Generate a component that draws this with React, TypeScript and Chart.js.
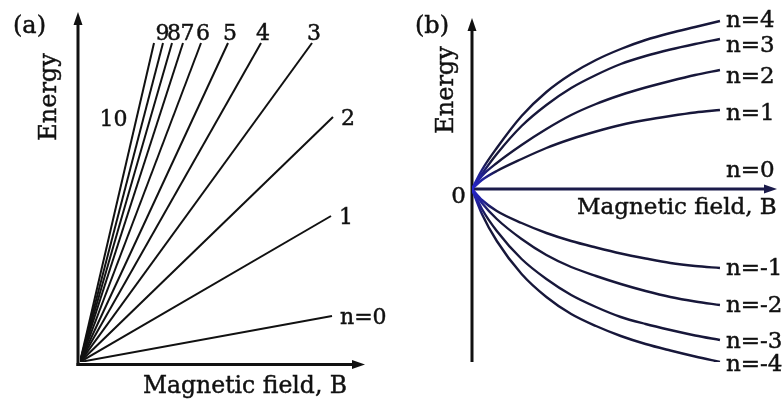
import React, { useEffect, useRef } from "react";
import { Chart, registerables } from "chart.js";

Chart.register(...registerables);

const SERIF = '"DejaVu Serif", "Liberation Serif", serif';
const INK = "#111111";
const NAVY = "#17173a";
const AXIS_NAVY = "#1b1b4a";

// (a) Landau levels of an ordinary two-dimensional electron gas: straight fans from the origin
const fanLevels = ["n=0", "1", "2", "3", "4", "5", "6", "7", "8", "9", "10"];
const fanFieldEnd = [10.08, 10.04, 10.12, 9.28, 7.24, 5.92, 4.84, 4.12, 3.68, 3.32, 2.96];
const fanEnergyEnd = [1.84, 5.84, 9.8, 12.76, 12.76, 12.76, 12.76, 12.76, 12.76, 12.76, 12.76];

// (b) Landau levels of graphene: curves bending away from the origin
const fieldSamples = [0, 0.4, 1, 2, 3, 4, 5, 6, 7, 8, 9, 10];
const diracLevels = ["n=4", "n=3", "n=2", "n=1", "n=-1", "n=-2", "n=-3", "n=-4"];
const levelP4 = [0, 1.9, 4.1, 7.3, 9.7, 11.5, 12.9, 14.0, 14.9, 15.6, 16.2, 16.8];
const levelP3 = [0, 1.5, 3.5, 6.3, 8.4, 10.1, 11.4, 12.5, 13.3, 13.95, 14.5, 15.0];
const levelP2 = [0, 1.3, 2.6, 4.4, 6.0, 7.4, 8.5, 9.4, 10.15, 10.8, 11.4, 11.9];
const levelP1 = [0, 0.9, 1.8, 3.0, 4.1, 5.0, 5.75, 6.4, 6.9, 7.3, 7.65, 7.9];
const levelM1 = [0, -1.1, -2.2, -3.4, -4.4, -5.2, -5.85, -6.45, -6.95, -7.4, -7.7, -7.9];
const levelM2 = [0, -1.4, -3.0, -5.0, -6.6, -7.8, -8.7, -9.5, -10.2, -10.8, -11.25, -11.6];
const levelM3 = [0, -2.0, -4.2, -7.0, -9.0, -10.6, -11.8, -12.8, -13.5, -14.1, -14.65, -15.1];
const levelM4 = [0, -2.5, -5.2, -8.5, -10.8, -12.5, -13.7, -14.7, -15.5, -16.15, -16.75, -17.3];
const diracEnergies = [levelP4, levelP3, levelP2, levelP1, levelM1, levelM2, levelM3, levelM4];

// baseline drop of each level name below the end of its curve, in pixels
const diracLabelDrop = [6, 13, 13, 10, 7, 7, 8, 9];

function arrowLine(
  ctx: CanvasRenderingContext2D,
  x1: number,
  y1: number,
  x2: number,
  y2: number,
  color: string,
  width: number
) {
  const ang = Math.atan2(y2 - y1, x2 - x1);
  const head = 13;
  const half = 4.5;
  const bx = x2 - head * Math.cos(ang);
  const by = y2 - head * Math.sin(ang);
  ctx.save();
  ctx.strokeStyle = color;
  ctx.lineWidth = width;
  ctx.beginPath();
  ctx.moveTo(x1, y1);
  ctx.lineTo(bx + 2 * Math.cos(ang), by + 2 * Math.sin(ang));
  ctx.stroke();
  ctx.fillStyle = color;
  ctx.beginPath();
  ctx.moveTo(x2, y2);
  ctx.lineTo(bx - half * Math.sin(ang), by + half * Math.cos(ang));
  ctx.lineTo(bx + half * Math.sin(ang), by - half * Math.cos(ang));
  ctx.closePath();
  ctx.fill();
  ctx.restore();
}

function label(
  ctx: CanvasRenderingContext2D,
  s: string,
  x: number,
  y: number,
  size: number,
  align: CanvasTextAlign = "left"
) {
  ctx.save();
  ctx.font = `${size}px ${SERIF}`;
  ctx.textAlign = align;
  ctx.textBaseline = "alphabetic";
  ctx.fillStyle = INK;
  ctx.strokeStyle = INK;
  ctx.lineWidth = 0.45;
  ctx.fillText(s, x, y);
  ctx.strokeText(s, x, y);
  ctx.restore();
}

function verticalLabel(ctx: CanvasRenderingContext2D, s: string, x: number, y: number, size: number) {
  ctx.save();
  ctx.translate(x, y);
  ctx.rotate(-Math.PI / 2);
  label(ctx, s, 0, 0, size, "center");
  ctx.restore();
}

const fanDecor = {
  id: "fanDecor",
  afterDraw(chart: any) {
    const { ctx, chartArea, scales } = chart;
    const xs = scales.x;
    const ys = scales.y;
    const ox = xs.getPixelForValue(0);
    const oy = ys.getPixelForValue(0);

    // axes with arrowheads
    arrowLine(ctx, ox - 2, oy + 4, ox - 2, chartArea.top, INK, 3);
    arrowLine(ctx, ox - 3.5, oy + 2.5, chartArea.right, oy + 2.5, INK, 3);

    fanLevels.forEach((name, i) => {
      const ex = xs.getPixelForValue(fanFieldEnd[i]);
      const ey = ys.getPixelForValue(fanEnergyEnd[i]);
      if (i <= 2) {
        label(ctx, name, ex + 8, ey + 8, 22, "left");
      } else if (i < 10) {
        // the steepest lines end close together, so their numbers are spread a little
        const spread = i >= 7 ? (8 - i) * 2.5 : 0;
        label(ctx, name, ex + 2 + spread, ey - 3, 22, "center");
      } else {
        const px = ox + 0.75 * (ex - ox);
        const py = oy + 0.75 * (ey - oy);
        label(ctx, name, px - 8, py + 3, 22, "right");
      }
    });

    label(ctx, "(a)", 13, 33, 24);
    verticalLabel(ctx, "Energy", 56, 97, 24);
    label(ctx, "Magnetic field, B", 143, 393, 23.5);
  },
};

const diracAxes = {
  id: "diracAxes",
  beforeDatasetsDraw(chart: any) {
    const { ctx, chartArea, scales } = chart;
    const ox = scales.x.getPixelForValue(0);
    const oy = scales.y.getPixelForValue(0);
    arrowLine(ctx, ox, chartArea.bottom, ox, chartArea.top, INK, 3);
    arrowLine(ctx, ox, oy, chartArea.right, oy, AXIS_NAVY, 3);
  },
  afterDraw(chart: any) {
    const { ctx, scales } = chart;
    const xs = scales.x;
    const ys = scales.y;
    const ox = xs.getPixelForValue(0);
    const oy = ys.getPixelForValue(0);
    const last = fieldSamples.length - 1;
    const ex = xs.getPixelForValue(fieldSamples[last]);

    diracLevels.forEach((name, i) => {
      const ey = ys.getPixelForValue(diracEnergies[i][last]);
      label(ctx, name, ex + 6, ey + diracLabelDrop[i], 23, "left");
    });
    label(ctx, "n=0", ex + 6, oy - 12, 23, "left");
    label(ctx, "0", ox - 6, oy + 14, 23, "right");

    label(ctx, "(b)", 15, 33, 24);
    verticalLabel(ctx, "Energy", ox - 19, 90, 24);
    label(ctx, "Magnetic field, B", 177, 214, 23);
  },
};

function originGlow(context: any) {
  const chart = context.chart;
  if (!chart.chartArea) return NAVY;
  const ox = chart.scales.x.getPixelForValue(0);
  const oy = chart.scales.y.getPixelForValue(0);
  const g = chart.ctx.createRadialGradient(ox, oy, 0, ox, oy, 34);
  g.addColorStop(0, "#2626d0");
  g.addColorStop(0.45, "#20209a");
  g.addColorStop(1, NAVY);
  return g;
}

export default function App() {
  const fanRef = useRef<HTMLCanvasElement | null>(null);
  const diracRef = useRef<HTMLCanvasElement | null>(null);

  useEffect(() => {
    if (!fanRef.current || !diracRef.current) return;

    const fanChart = new Chart(fanRef.current, {
      type: "line",
      data: {
        datasets: fanLevels.map((name, i) => ({
          label: name,
          data: [
            { x: 0, y: 0 },
            { x: fanFieldEnd[i], y: fanEnergyEnd[i] },
          ],
          borderColor: INK,
          borderWidth: 2,
          pointRadius: 0,
          fill: false,
          tension: 0,
        })),
      },
      options: {
        responsive: false,
        animation: false,
        devicePixelRatio: 1,
        layout: { padding: { left: 80, right: 35, top: 12, bottom: 39 } },
        plugins: { legend: { display: false }, tooltip: { enabled: false } },
        scales: {
          x: { type: "linear", min: 0, max: 11.4, display: false },
          y: { type: "linear", min: 0, max: 14, display: false },
        },
      },
      plugins: [fanDecor],
    });

    const diracChart = new Chart(diracRef.current, {
      type: "line",
      data: {
        datasets: diracLevels.map((name, i) => ({
          label: name,
          data: fieldSamples.map((b, k) => ({ x: b, y: diracEnergies[i][k] })),
          borderColor: originGlow,
          borderWidth: 2.4,
          pointRadius: 0,
          fill: false,
          cubicInterpolationMode: "monotone" as const,
        })),
      },
      options: {
        responsive: false,
        animation: false,
        devicePixelRatio: 1,
        layout: { padding: { left: 72, right: 7, top: 18, bottom: 39 } },
        plugins: { legend: { display: false }, tooltip: { enabled: false } },
        scales: {
          x: { type: "linear", min: 0, max: 12.3, display: false },
          y: { type: "linear", min: -17.3, max: 17.1, display: false },
        },
      },
      plugins: [diracAxes],
    });

    return () => {
      fanChart.destroy();
      diracChart.destroy();
    };
  }, []);

  return (
    <div
      style={{
        position: "fixed",
        left: 0,
        top: 0,
        width: 784,
        height: 401,
        background: "#ffffff",
        overflow: "hidden",
      }}
    >
      <canvas
        ref={fanRef}
        width={400}
        height={401}
        style={{ position: "absolute", left: 0, top: 0, width: 400, height: 401 }}
      />
      <canvas
        ref={diracRef}
        width={384}
        height={401}
        style={{ position: "absolute", left: 400, top: 0, width: 384, height: 401 }}
      />
    </div>
  );
}
